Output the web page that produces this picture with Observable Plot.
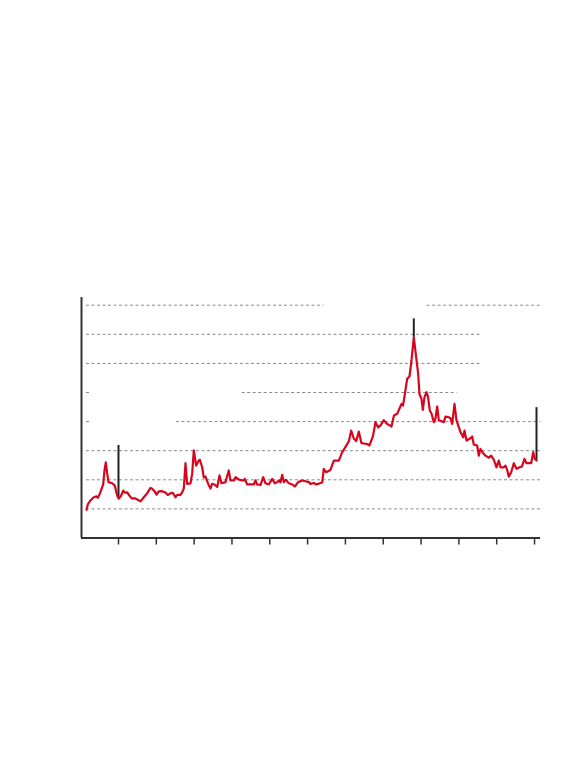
<!DOCTYPE html>
<html><head><meta charset="utf-8">
<script src="https://cdn.jsdelivr.net/npm/d3@7"></script>
<script src="https://cdn.jsdelivr.net/npm/@observablehq/plot@0.6"></script>
<style>html,body{margin:0;padding:0;background:#fff;} #chart svg{display:block}</style>
</head><body><div id="chart"></div>
<script>
// Series (decimal year, value)
const dates = [2009.154,2009.188,2009.241,2009.305,2009.347,2009.418,2009.453,2009.506,2009.595,2009.630,2009.664,2009.701,2009.736,2009.833,2009.902,2009.966,
2010.008,2010.071,2010.124,2010.167,2010.230,2010.291,2010.362,2010.423,2010.494,2010.582,2010.669,2010.759,2010.846,2010.891,2010.952,
2011.005,2011.066,2011.155,2011.243,2011.303,2011.393,2011.446,2011.507,2011.552,2011.639,2011.684,2011.727,2011.771,2011.816,2011.904,2011.949,2011.991,
2012.054,2012.123,2012.150,2012.213,2012.255,2012.300,2012.372,2012.432,2012.477,2012.538,2012.610,2012.670,2012.723,2012.829,2012.916,2012.961,
2013.049,2013.093,2013.181,2013.252,2013.313,2013.339,2013.403,2013.577,2013.622,2013.667,2013.754,2013.826,2013.887,2013.974,
2014.064,2014.133,2014.196,2014.244,2014.283,2014.328,2014.371,2014.434,2014.503,2014.593,2014.661,2014.751,2014.857,2014.944,
2015.032,2015.076,2015.164,2015.227,2015.301,2015.386,2015.428,2015.486,2015.605,2015.693,2015.825,2015.915,
2016.015,2016.089,2016.152,2016.221,2016.285,2016.354,2016.425,2016.576,2016.636,2016.729,2016.795,2016.867,2016.927,
2017.015,2017.104,2017.218,2017.284,2017.369,2017.430,2017.483,2017.522,2017.570,2017.633,2017.694,2017.747,2017.808,2017.871,2017.924,2017.958,
2018.011,2018.046,2018.091,2018.144,2018.183,2018.231,2018.276,2018.337,2018.381,2018.426,2018.469,2018.527,2018.601,2018.646,2018.733,2018.778,2018.823,2018.884,2018.937,2018.998,
2019.042,2019.114,2019.148,2019.201,2019.288,2019.352,2019.394,2019.484,2019.526,2019.571,2019.643,2019.703,2019.791,2019.854,2019.923,2019.994,
2020.055,2020.100,2020.187,2020.232,2020.277,2020.319,2020.383,2020.452,2020.523,2020.610,2020.669,2020.735,2020.788,2020.854,2020.912,2020.965,
2021.007,2021.052];
const values = [0.97,1.15,1.26,1.35,1.40,1.43,1.38,1.52,1.84,2.32,2.60,2.22,1.92,1.88,1.80,1.46,
1.35,1.46,1.63,1.56,1.57,1.45,1.35,1.37,1.32,1.26,1.40,1.54,1.72,1.69,1.61,
1.49,1.60,1.61,1.56,1.48,1.55,1.54,1.40,1.48,1.48,1.57,1.70,2.57,1.86,1.88,2.22,3.01,
2.49,2.66,2.69,2.43,2.08,2.11,1.86,1.70,1.86,1.84,1.75,2.15,1.88,1.92,2.32,1.98,
1.98,2.09,2.01,1.98,1.98,2.03,1.84,1.84,1.98,1.84,1.82,2.09,1.88,1.84,
2.03,1.88,1.92,1.98,1.91,2.17,1.92,2.00,1.88,1.84,1.77,1.92,1.98,1.95,
1.92,1.86,1.89,1.84,1.87,1.91,2.38,2.26,2.34,2.66,2.66,2.95,
3.16,3.32,3.69,3.42,3.33,3.66,3.26,3.23,3.18,3.50,3.98,3.80,3.87,
4.05,3.92,3.83,4.21,4.27,4.45,4.61,4.55,4.93,5.47,5.55,6.10,6.90,6.21,5.64,4.95,
4.78,4.40,4.84,5.01,4.86,4.38,4.28,3.98,4.11,4.52,4.04,4.02,3.98,4.17,4.15,4.11,3.92,4.61,4.04,3.81,
3.64,3.46,3.69,3.35,3.41,3.49,3.21,3.18,2.83,3.06,2.91,2.83,2.76,2.83,2.69,2.43,
2.66,2.43,2.43,2.49,2.34,2.11,2.26,2.57,2.38,2.43,2.46,2.72,2.57,2.57,2.57,2.95,
2.72,2.66];

// Axis ticks (years)
const tickYears = [2010,2011,2012,2013,2014,2015,2016,2017,2018,2019,2020,2021];

// Gridline segments: level, start year, end year
const gridLevel = [1,2,3,4,4,5,5,6,7,8,8];
const gridStart = [2009.154,2009.154,2009.154,2009.154,2011.533,2009.154,2013.271,2009.154,2009.154,2009.154,2018.162];
const gridEnd   = [2021.158,2021.158,2021.158,2009.235,2021.158,2009.235,2018.955,2019.617,2019.617,2015.433,2021.158];

// Annotation leader lines: year, from value, to value
const annotYear = [2010.0, 2017.808, 2021.052];
const annotFrom = [1.35, 6.90, 2.66];
const annotTo   = [3.18, 7.53, 4.48];

const xDomain = [2009.022, 2021.158];
const yDomain = [0, 8.265];

const series = dates.map((d, i) => ({date: d, value: values[i]}));
const grid = gridLevel.map((v, i) => ({v, a: gridStart[i], b: gridEnd[i]}));
const annots = annotYear.map((x, i) => ({x, y1: annotFrom[i], y2: annotTo[i]}));

const chart = Plot.plot({
  width: 576,
  height: 764,
  marginTop: 297,
  marginBottom: 226.5,
  marginLeft: 81,
  marginRight: 36,
  style: {background: "#fff"},
  x: {domain: xDomain, axis: null},
  y: {domain: yDomain, axis: null},
  marks: [
    Plot.ruleY(grid, {y: "v", x1: "a", x2: "b", stroke: "#8a8a8a", strokeWidth: 1, strokeDasharray: "3,2.5"}),
    Plot.ruleX(annots, {x: "x", y1: "y1", y2: "y2", stroke: "#222", strokeWidth: 2}),
    Plot.line(series, {x: "date", y: "value", stroke: "#d7061e", strokeWidth: 2.2, strokeLinejoin: "round"}),
    Plot.axisX({ticks: tickYears, tickSize: 7, tickFormat: () => "", stroke: "#333", strokeWidth: 1.5}),
    Plot.ruleX([xDomain[0]], {stroke: "#333", strokeWidth: 2}),
    Plot.ruleY([yDomain[0]], {stroke: "#333", strokeWidth: 2})
  ]
});
document.getElementById("chart").append(chart);
</script>
</body></html>
